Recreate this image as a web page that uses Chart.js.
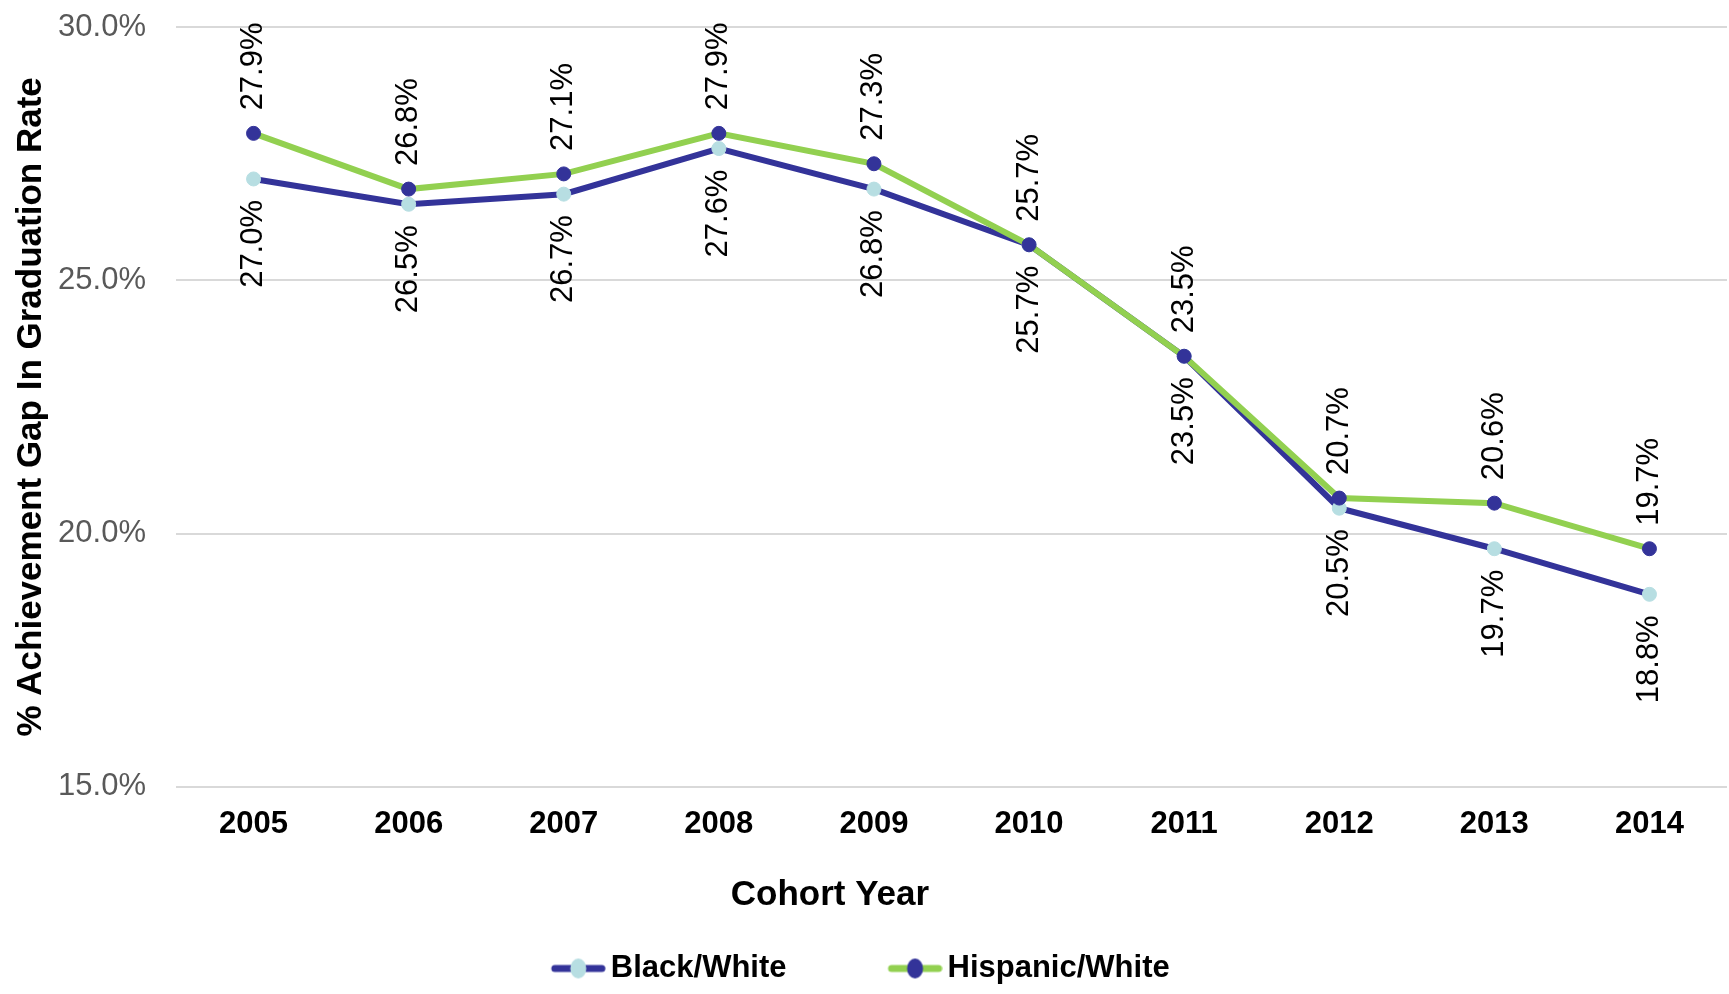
<!DOCTYPE html>
<html>
<head>
<meta charset="utf-8">
<script src="https://cdn.jsdelivr.net/npm/chart.js@4/dist/chart.umd.min.js"></script>
<style>
  html, body { margin: 0; padding: 0; background: #ffffff; }
  #wrap { width: 1729px; height: 994px; position: relative; }
</style>
</head>
<body>
<div id="wrap"><canvas id="c"></canvas></div>
<script>
// ---- data ----
const categories = ['2005', '2006', '2007', '2008', '2009', '2010', '2011', '2012', '2013', '2014'];
const blackWhite = [27.0, 26.5, 26.7, 27.6, 26.8, 25.7, 23.5, 20.5, 19.7, 18.8];
const hispanicWhite = [27.9, 26.8, 27.1, 27.9, 27.3, 25.7, 23.5, 20.7, 20.6, 19.7];
const seriesNames = ['Black/White', 'Hispanic/White'];
const yTickValues = [15, 20, 25, 30];
const xTitle = 'Cohort Year';
const yTitle = '% Achievement Gap In Graduation Rate';

// ---- styles ----
const DARK_BLUE = '#333399';
const LIGHT_BLUE = '#b7dee2';
const GREEN = '#92d050';
const FONT = "'Liberation Sans', Arial, Helvetica, sans-serif";

Chart.defaults.font.family = FONT;

function makeLegendIcon(lineColor, dotColor) {
  const cv = document.createElement('canvas');
  cv.width = 59; cv.height = 22;
  const g = cv.getContext('2d');
  g.strokeStyle = lineColor;
  g.lineWidth = 7;
  g.lineCap = 'round';
  g.beginPath(); g.moveTo(8, 11); g.lineTo(55, 11); g.stroke();
  g.fillStyle = dotColor;
  g.beginPath(); g.ellipse(31.5, 11, 8, 10, 0, 0, Math.PI * 2); g.fill();
  return cv;
}
const legendIcons = [makeLegendIcon(DARK_BLUE, LIGHT_BLUE), makeLegendIcon(GREEN, DARK_BLUE)];

const dataLabelPlugin = {
  id: 'rotatedDataLabels',
  afterDatasetsDraw(chart) {
    const ctx = chart.ctx;
    chart.data.datasets.forEach((ds, di) => {
      const meta = chart.getDatasetMeta(di);
      const above = di === 1;
      meta.data.forEach((pt, i) => {
        const v = ds.data[i];
        ctx.save();
        ctx.translate(pt.x, above ? pt.y - 23 : pt.y + 21);
        ctx.rotate(-Math.PI / 2);
        ctx.font = '31px ' + FONT;
        ctx.fillStyle = '#000000';
        ctx.textBaseline = 'middle';
        ctx.textAlign = above ? 'left' : 'right';
        ctx.fillText(v.toFixed(1) + '%', 0, 0);
        ctx.restore();
      });
    });
  }
};

new Chart(document.getElementById('c'), {
  type: 'line',
  data: {
    labels: categories,
    datasets: [
      {
        label: seriesNames[0],
        data: blackWhite,
        borderColor: DARK_BLUE,
        backgroundColor: LIGHT_BLUE,
        pointBackgroundColor: LIGHT_BLUE,
        pointBorderColor: LIGHT_BLUE,
        pointRadius: 7,
        pointBorderWidth: 1,
        borderWidth: 6,
        tension: 0,
        fill: false,
        order: 1
      },
      {
        label: seriesNames[1],
        data: hispanicWhite,
        borderColor: GREEN,
        backgroundColor: DARK_BLUE,
        pointBackgroundColor: DARK_BLUE,
        pointBorderColor: DARK_BLUE,
        pointRadius: 7,
        pointBorderWidth: 1,
        borderWidth: 6,
        tension: 0,
        fill: false,
        order: 0
      }
    ]
  },
  options: {
    responsive: true,
    maintainAspectRatio: false,
    animation: false,
    layout: { autoPadding: false, padding: { top: 27, right: 2, left: 0, bottom: 0 } },
    plugins: {
      tooltip: { enabled: false },
      title: { display: false },
      legend: {
        display: true,
        position: 'bottom',
        align: 'center',
        labels: {
          usePointStyle: true,
          pointStyleWidth: 38,
          padding: 30,
          color: '#000000',
          font: { size: 31, weight: 'bold', family: FONT },
          generateLabels(chart) {
            const items = Chart.defaults.plugins.legend.labels.generateLabels(chart);
            items.sort((a, b) => a.datasetIndex - b.datasetIndex);
            return items.map((it, k) => {
              it.pointStyle = legendIcons[it.datasetIndex];
              if (k < items.length - 1) it.text = it.text + '\u0020'.repeat(9);
              return it;
            });
          }
        }
      }
    },
    scales: {
      x: {
        type: 'category',
        offset: true,
        grid: { display: false, drawTicks: false },
        border: { display: false },
        ticks: {
          padding: 19,
          color: '#000000',
          font: { size: 31, weight: 'bold', family: FONT },
          maxRotation: 0,
          autoSkip: false
        },
        title: {
          display: true,
          text: xTitle + '\u0020'.repeat(25),
          color: '#000000',
          font: { size: 35, weight: 'bold', family: FONT },
          padding: { top: 12, bottom: 7 }
        }
      },
      y: {
        min: yTickValues[0],
        max: yTickValues[yTickValues.length - 1],
        afterBuildTicks(scale) {
          scale.ticks = yTickValues.map(v => ({ value: v }));
        },
        afterFit(scale) { scale.width = 176; scale.paddingTop = 0; },
        grid: { color: '#d9d9d9', lineWidth: 2, drawTicks: false },
        border: { display: false },
        ticks: {
          padding: 30,
          color: '#595959',
          font: { size: 31, family: FONT },
          callback: v => Number(v).toFixed(1) + '%'
        },
        title: {
          display: true,
          text: yTitle,
          color: '#000000',
          font: { size: 35, weight: 'bold', family: FONT },
          padding: { top: 10, bottom: 6 }
        }
      }
    }
  },
  plugins: [dataLabelPlugin]
});
</script>
</body>
</html>
